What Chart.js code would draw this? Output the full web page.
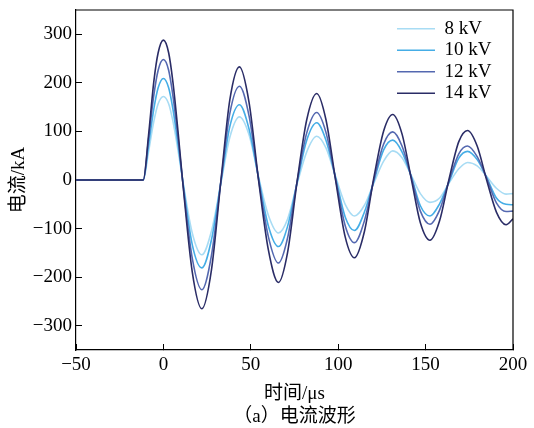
<!DOCTYPE html>
<html>
<head>
<meta charset="utf-8">
<script src="https://cdn.jsdelivr.net/npm/chart.js@4.4.0/dist/chart.umd.min.js"></script>
<style>
	html, body { margin: 0; padding: 0; background: #fff; }
	#wrap { width: 534px; height: 428px; }
	canvas { display: block; }
</style>
</head>
<body>
<div id="wrap"><canvas id="chart" width="534" height="428"></canvas></div>
<script>
// time axis (µs) and current (kA)
const TIME_US = [-50, -15, -11.5, -8.5, -5.5, -3, 0, 3, 5.5, 8.5, 11, 16.5, 22, 27.5, 33, 38, 43.5, 49, 54.5, 60, 65.8, 71, 76.5, 82, 87.7, 93, 98.5, 104, 109.3, 115, 120.2, 126, 131.2, 136.5, 142, 147, 152.5, 158, 163.3, 169, 174, 179.5, 185, 190.5, 196, 200];
const I_8KV = [0, 0, 0, 58, 120, 157, 172, 157, 120, 58, 1, -109, -154, -105, -5, 88, 130, 93, 6, -72, -109, -81, -8, 58, 90, 66, 7, -50, -74, -52, -8, 39, 60, 46, 8, -28, -46, -37, -7, 23, 36, 29, 7, -17, -29, -28];
const I_10KV = [0, 0, 0, 71, 146, 190, 209, 190, 145, 70, 0, -133, -181, -123, -2, 110, 155, 105, 3, -94, -137, -96, -5, 82, 118, 82, 5, -76, -104, -66, -5, 62, 82, 58, 5, -53, -74, -49, -5, 45, 59, 42, 5, -37, -50, -51];
const I_12KV = [0, 0, 0, 84, 174, 226, 248, 226, 172, 83, -2, -161, -226, -155, 0, 137, 193, 132, 0, -116, -171, -120, -3, 97, 139, 98, 2, -94, -129, -84, -3, 74, 99, 70, 3, -64, -91, -62, -3, 54, 70, 48, 3, -47, -65, -64];
const I_14KV = [0, 0, 0, 92, 202, 262, 288, 262, 200, 95, -2, -189, -265, -185, 2, 165, 233, 160, -2, -143, -211, -150, -3, 124, 178, 124, 0, -117, -160, -106, 1, 101, 135, 95, -1, -88, -124, -84, 0, 79, 102, 70, -1, -66, -92, -80];

const SERIES_LABELS = ['8 kV', '10 kV', '12 kV', '14 kV'];
const SERIES_VALUES = [I_8KV, I_10KV, I_12KV, I_14KV];
const SERIES_COLORS = ['#a8dcf4', '#45ade6', '#5468b0', '#2a2c66'];

const X_TICKS = [-50, 0, 50, 100, 150, 200];
const Y_TICKS = [-300, -200, -100, 0, 100, 200, 300];

const SERIF = '"Liberation Serif", "Times New Roman", "Noto Sans CJK SC", serif';
const minus = v => String(v).replace('-', '\u2212');

// put the legend in the top-right corner of the plot
const legendPlacer = {
	id: 'legendPlacer',
	afterLayout(chart) {
		const lg = chart.legend;
		const a = chart.chartArea;
		if (!lg) return;
		lg.left = a.right - 118.5;
		lg.right = a.right;
		lg.top = a.top + 6.7;
		lg.bottom = lg.top + 100;
		lg.width = lg.right - lg.left;
		lg.height = 100;
	}
};

// closes the box on the top and right sides
const frame = {
	id: 'frame',
	afterDatasetsDraw(chart) {
		const { ctx, chartArea: a } = chart;
		ctx.save();
		ctx.strokeStyle = '#000';
		ctx.lineWidth = 1.2;
		ctx.beginPath();
		ctx.moveTo(a.left, a.top);
		ctx.lineTo(a.right, a.top);
		ctx.lineTo(a.right, a.bottom);
		ctx.stroke();
		ctx.restore();
	}
};

const datasets = SERIES_LABELS.map((label, i) => ({
	label,
	data: TIME_US.map((t, k) => ({ x: t, y: SERIES_VALUES[i][k] })),
	borderColor: SERIES_COLORS[i],
	backgroundColor: SERIES_COLORS[i],
	borderWidth: 1.6,
	pointRadius: 0,
	fill: false,
	cubicInterpolationMode: 'monotone',
	order: SERIES_LABELS.length - i
}));

new Chart(document.getElementById('chart').getContext('2d'), {
	type: 'line',
	data: { datasets },
	plugins: [legendPlacer, frame],
	options: {
		responsive: false,
		animation: false,
		layout: { padding: { top: 10, right: 21, left: 0, bottom: 0 } },
		scales: {
			x: {
				type: 'linear',
				min: -50,
				max: 200,
				afterBuildTicks: s => { s.ticks = X_TICKS.map(v => ({ value: v })); },
				afterFit: s => { s.height = 55.2; s.paddingLeft = 0; s.paddingRight = 0; },
				grid: { drawOnChartArea: false, tickLength: -6, color: '#000', lineWidth: 1 },
				border: { display: true, color: '#000', width: 1.2 },
				ticks: {
					padding: 10,
					maxRotation: 0,
					color: '#000',
					font: { family: SERIF, size: 19 },
					callback: v => minus(v)
				},
				title: {
					display: true,
					text: '时间/μs',
					color: '#000',
					font: { family: SERIF, size: 19 },
					padding: { top: 0, bottom: 0 }
				}
			},
			y: {
				type: 'linear',
				min: -350,
				max: 350,
				afterBuildTicks: s => { s.ticks = Y_TICKS.map(v => ({ value: v })); },
				afterFit: s => { s.width = 76; s.paddingTop = 0; s.paddingBottom = 0; },
				grid: { drawOnChartArea: false, tickLength: -6, color: '#000', lineWidth: 1 },
				border: { display: true, color: '#000', width: 1.2 },
				ticks: {
					padding: 10,
					color: '#000',
					font: { family: SERIF, size: 19 },
					callback: v => minus(v)
				},
				title: {
					display: true,
					text: '电流/kA',
					color: '#000',
					font: { family: SERIF, size: 19 },
					padding: { top: 8, bottom: 0 }
				}
			}
		},
		plugins: {
			legend: {
				display: true,
				position: 'chartArea',
				align: 'start',
				labels: {
					usePointStyle: true,
					pointStyle: 'line',
					pointStyleWidth: 38,
					padding: 2.5,
					color: '#000',
					font: { family: SERIF, size: 19 },
					sort: (a, b) => a.datasetIndex - b.datasetIndex
				}
			},
			title: {
				display: true,
				position: 'bottom',
				fullSize: false,
				text: '（a）电流波形',
				color: '#000',
				font: { family: SERIF, size: 19, weight: 'normal' },
				padding: { top: 0, bottom: 0 }
			},
			tooltip: { enabled: false }
		}
	}
});
</script>
</body>
</html>
